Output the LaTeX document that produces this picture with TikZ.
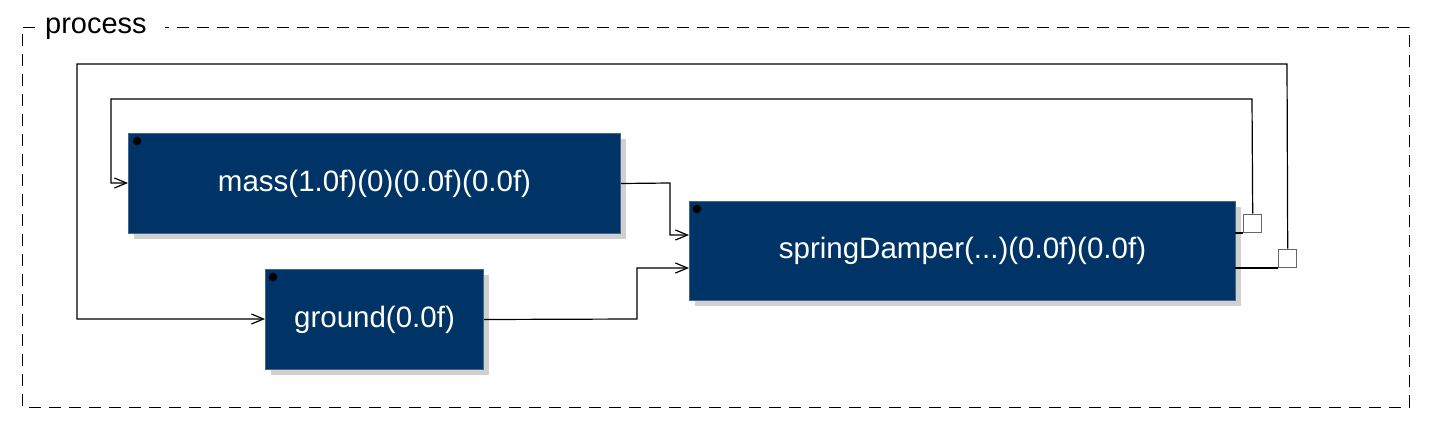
\documentclass[tikz,border=0pt]{standalone}
\usepackage{fontspec}
\setmainfont{Liberation Sans}
\usetikzlibrary{arrows.meta,shadows}
\definecolor{boxblue}{RGB}{0,51,102}
\definecolor{boxedge}{RGB}{70,100,140}
\definecolor{shadowgray}{RGB}{208,208,208}
\tikzset{
  blk/.style={draw=boxedge, line width=1pt, fill=boxblue, text=white, anchor=north west,
    inner sep=0pt, font=\fontsize{29.5}{32}\selectfont,
    copy shadow={draw=none, fill=shadowgray, shadow xshift=5pt, shadow yshift=-5pt}},
  dotmark/.style={circle, fill=black, inner sep=0pt, minimum size=8.5pt},
  wire/.style={draw=black, line width=1.2pt},
  arr/.style={wire, -{Straight Barb[length=12pt, width=10pt, line width=1.2pt]}},
  port/.style={draw=gray!80!black, line width=1.4pt, fill=white, inner sep=0pt, minimum size=18pt, anchor=south west},
  frame/.style={draw=black, line width=1pt, dash pattern=on 12pt off 8pt},
}
\begin{document}
\begin{tikzpicture}[x=1pt, y=-1pt]
\useasboundingbox (0,0) rectangle (1432,434);
% frame
\draw[frame] (35,27) -- (22,27) -- (22,407) -- (1409,407) -- (1409,27) -- (165,27);
\node[anchor=base west, inner sep=0pt, font=\fontsize{29}{32}\selectfont] (lbl) at (45,33) {process};
% blocks
\node[blk, minimum width=492pt, minimum height=100pt] (mass) at (128,133) {mass(1.0f)(0)(0.0f)(0.0f)};
\node[blk, minimum width=546pt, minimum height=99pt] (sd) at (689,201) {springDamper(...)(0.0f)(0.0f)};
\node[blk, minimum width=218pt, minimum height=100pt] (ground) at (265,269) {ground(0.0f)};
\node[dotmark] (d1) at (137,141) {};
\node[dotmark] (d2) at (697,209) {};
\node[dotmark] (d3) at (273,277) {};
% port coordinates
\coordinate (sdin1) at (689,235);
\coordinate (sdin2) at (689,268);
\coordinate (sdout1) at (1235,233);
\coordinate (sdout2) at (1235,268);
\coordinate (massin) at (128,183);
\coordinate (groundin) at (265,319);
% output ports
\node[port] (p1) at (1243,233) {};
\node[port] (p2) at (1278,268) {};
% connectors
\draw[arr] (mass.east) -- (670,183) |- (sdin1);
\draw[arr] (ground.east) -- (637,319) |- (sdin2);
\draw[wire] (sdout1) -- (p1.south west);
\draw[wire] (sdout2) -- (p2.south west);
\draw[arr] (p1.north) -- (1252,99) -- (111,99) |- (massin);
\draw[arr] (p2.north) -- (1287,64) -- (77,64) |- (groundin);
\end{tikzpicture}
\end{document}
